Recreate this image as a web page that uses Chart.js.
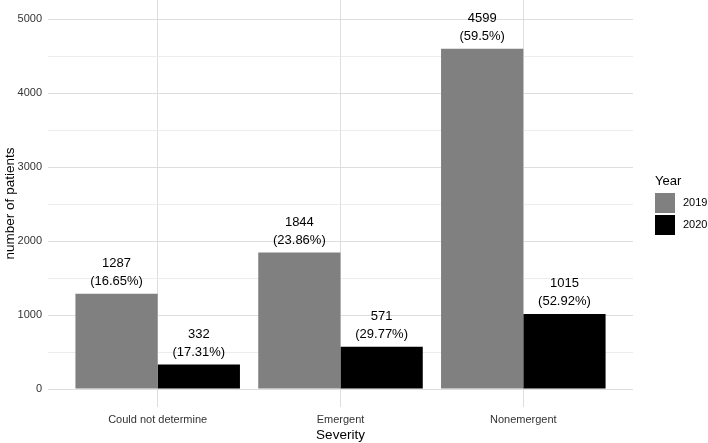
<!DOCTYPE html>
<html>
<head>
<meta charset="utf-8">
<script src="https://cdn.jsdelivr.net/npm/chart.js@4/dist/chart.umd.min.js"></script>
<style>
  html, body { margin: 0; padding: 0; background: #fff; }
  #wrap { width: 708px; height: 443px; }
</style>
</head>
<body>
<div id="wrap"><canvas id="chart"></canvas></div>
<script>
const categories = ["Could not determine", "Emergent", "Nonemergent"];
const years = ["2019", "2020"];
const counts2019 = [1287, 1844, 4599];
const counts2020 = [332, 571, 1015];
const pct2019 = ["16.65%", "23.86%", "59.5%"];
const pct2020 = ["17.31%", "29.77%", "52.92%"];
const yTicks = [0, 500, 1000, 1500, 2000, 2500, 3000, 3500, 4000, 4500, 5000];
const colors = ["#808080", "#000000"];

const FONT = "'Liberation Sans', Arial, sans-serif";

function toPoints(vals) {
    return vals.map((v, i) => ({x: i + 1, y: v}));
}

// labels above bars: count on first line, share on second
const barLabels = {
    id: "barLabels",
    afterDatasetsDraw(chart) {
        const ctx = chart.ctx;
        const pcts = [pct2019, pct2020];
        ctx.save();
        ctx.fillStyle = "#000";
        ctx.font = "13px " + FONT;
        ctx.textAlign = "center";
        ctx.textBaseline = "middle";
        chart.data.datasets.forEach((ds, d) => {
            chart.getDatasetMeta(d).data.forEach((bar, i) => {
                ctx.fillText(String(ds.data[i].y), bar.x, bar.y - 30);
                ctx.fillText("(" + pcts[d][i] + ")", bar.x, bar.y - 12);
            });
        });
        ctx.restore();
    }
};

// ggplot style legend on the right
const sideLegend = {
    id: "sideLegend",
    afterDraw(chart) {
        const ctx = chart.ctx;
        const x = 655;
        ctx.save();
        ctx.textBaseline = "middle";
        ctx.textAlign = "left";
        ctx.fillStyle = "#000";
        ctx.font = "13px " + FONT;
        ctx.fillText("Year", x, 181);
        years.forEach((yr, i) => {
            const top = 193 + i * 22;
            ctx.fillStyle = colors[i];
            ctx.fillRect(x, top, 20, 20);
            ctx.fillStyle = "#000";
            ctx.font = "11px " + FONT;
            ctx.fillText(yr, x + 28, top + 10);
        });
        ctx.restore();
    }
};

new Chart(document.getElementById("chart"), {
    type: "bar",
    data: {
        datasets: [
            {label: years[0], data: toPoints(counts2019), backgroundColor: colors[0], borderWidth: 0},
            {label: years[1], data: toPoints(counts2020), backgroundColor: colors[1], borderWidth: 0}
        ]
    },
    options: {
        responsive: true,
        maintainAspectRatio: false,
        animation: false,
        layout: {padding: {top: 0, right: 75, bottom: 0, left: 0}},
        datasets: {bar: {categoryPercentage: 0.9, barPercentage: 1.0}},
        plugins: {
            legend: {display: false},
            tooltip: {enabled: false}
        },
        scales: {
            x: {
                type: "linear",
                min: 0.4,
                max: 3.6,
                offset: false,
                afterBuildTicks: s => { s.ticks = categories.map((c, i) => ({value: i + 1})); },
                afterFit: s => {
                    s.height = 36;
                    s.paddingLeft = 0;
                    s.paddingRight = 0;
                },
                border: {display: false},
                grid: {color: "#dedede", lineWidth: 1, drawTicks: false, offset: false},
                ticks: {
                    color: "#333",
                    font: {family: FONT, size: 11},
                    padding: 6,
                    maxRotation: 0,
                    autoSkip: false,
                    callback: v => categories[v - 1]
                },
                title: {
                    display: true,
                    text: "Severity",
                    color: "#000",
                    font: {family: FONT, size: 13.5},
                    padding: {top: 0, bottom: 0}
                }
            },
            y: {
                min: -243,
                max: 5257,
                afterBuildTicks: s => { s.ticks = yTicks.map(v => ({value: v})); },
                afterFit: s => {
                    s.width = 48;
                    s.paddingTop = 0;
                    s.paddingBottom = 0;
                },
                border: {display: false},
                grid: {
                    drawTicks: false,
                    color: c => (c.tick && c.tick.value % 1000 === 0) ? "#dedede" : "#ececec"
                },
                ticks: {
                    color: "#333",
                    font: {family: FONT, size: 11},
                    padding: 6,
                    callback: v => (v % 1000 === 0 ? String(v) : "")
                },
                title: {
                    display: true,
                    text: "number of patients",
                    color: "#000",
                    font: {family: FONT, size: 13.5},
                    padding: {top: 2, bottom: 0}
                }
            }
        }
    },
    plugins: [barLabels, sideLegend]
});
</script>
</body>
</html>
